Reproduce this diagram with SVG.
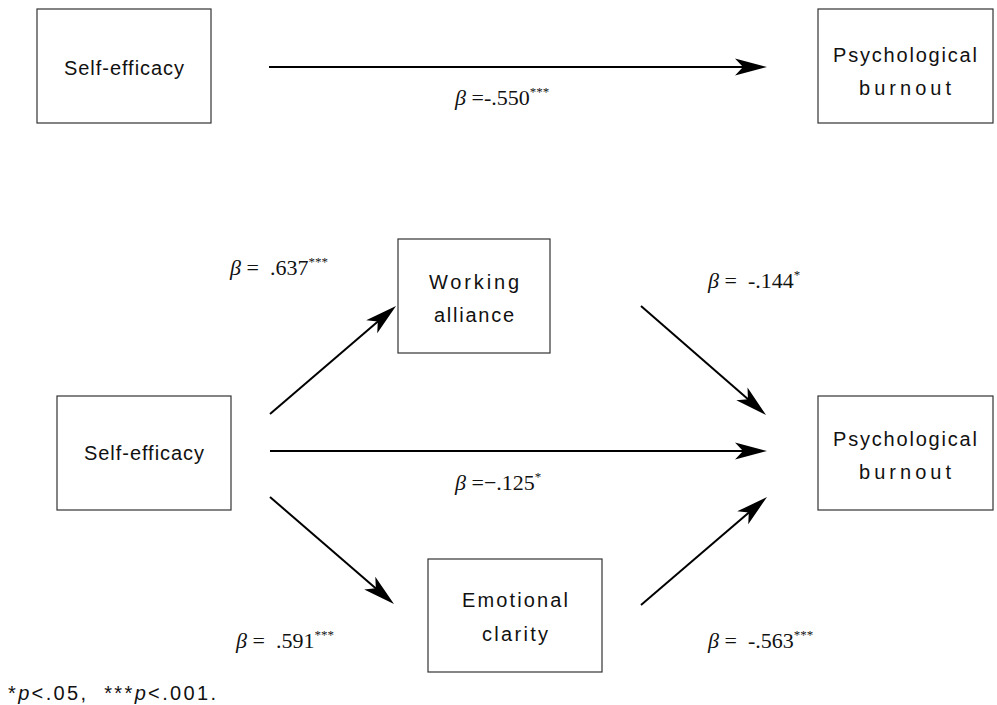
<svg xmlns="http://www.w3.org/2000/svg" width="997" height="705" viewBox="0 0 997 705">
<style>
.box{fill:#fff;stroke:#333;stroke-width:1.2}
.lbl{font-family:"Liberation Sans","DejaVu Sans",sans-serif;font-size:20px;fill:#111;text-anchor:middle}
.beta{font-family:"Liberation Serif","Times New Roman",serif;font-size:22px;fill:#111}
.it{font-style:italic}
.sup{font-size:13px}
.conn{stroke:#000;stroke-width:2;fill:none;marker-end:url(#ah)}
.note{font-family:"Liberation Sans","DejaVu Sans",sans-serif;font-size:20px;fill:#111}
</style>
<defs>
<marker id="ah" markerUnits="userSpaceOnUse" markerWidth="40" markerHeight="20" viewBox="-33 -10 35 20" refX="-12" refY="0" orient="auto">
<path d="M0,0 L-32,-8.5 L-24,0 L-32,8.5 Z" fill="#000"/>
</marker>
</defs>

<g id="se-top"><rect class="box" x="37" y="9" width="174" height="114"/><text class="lbl" x="124" y="75" textLength="120">Self-efficacy</text></g>
<g id="pb-top"><rect class="box" x="818" y="9" width="175" height="114"/><text class="lbl" x="905" y="62" textLength="144">Psychological</text><text class="lbl" x="905" y="95" textLength="92">burnout</text></g>

<g id="se"><rect class="box" x="57" y="396" width="174" height="114"/><text class="lbl" x="144" y="460" textLength="120">Self-efficacy</text></g>
<g id="wa"><rect class="box" x="398" y="239" width="152" height="114"/><text class="lbl" x="474" y="289" textLength="90">Working</text><text class="lbl" x="474" y="322" textLength="80">alliance</text></g>
<g id="ec"><rect class="box" x="428" y="559" width="174" height="113"/><text class="lbl" x="515" y="607" textLength="106">Emotional</text><text class="lbl" x="515" y="641" textLength="66">clarity</text></g>
<g id="pb"><rect class="box" x="818" y="396" width="175" height="114"/><text class="lbl" x="905" y="446" textLength="144">Psychological</text><text class="lbl" x="905" y="479" textLength="92">burnout</text></g>

<g id="connectors">
<line class="conn" x1="269" y1="67" x2="755" y2="67"/>
<line class="conn" x1="270" y1="414" x2="386.9" y2="313.8"/>
<line class="conn" x1="641" y1="306" x2="757" y2="407.1"/>
<line class="conn" x1="270" y1="451" x2="755" y2="451"/>
<line class="conn" x1="270" y1="497" x2="384.9" y2="596.2"/>
<line class="conn" x1="641" y1="605" x2="757.9" y2="504.8"/>
</g>

<g id="labels">
<text class="beta" x="455" y="105"><tspan class="it">β</tspan>&#160;=-.550<tspan class="sup" dy="-9">***</tspan></text>
<text class="beta" x="230" y="275"><tspan class="it">β</tspan>&#160;=&#160;&#160;.637<tspan class="sup" dy="-9">***</tspan></text>
<text class="beta" x="708" y="288"><tspan class="it">β</tspan>&#160;=&#160;&#160;-.144<tspan class="sup" dy="-9">*</tspan></text>
<text class="beta" x="455" y="490"><tspan class="it">β</tspan>&#160;=−.125<tspan class="sup" dy="-9">*</tspan></text>
<text class="beta" x="236" y="648"><tspan class="it">β</tspan>&#160;=&#160;&#160;.591<tspan class="sup" dy="-9">***</tspan></text>
<text class="beta" x="708" y="648"><tspan class="it">β</tspan>&#160;=&#160;&#160;-.563<tspan class="sup" dy="-9">***</tspan></text>
</g>

<text class="note" x="8" y="700" textLength="208">*<tspan class="it">p</tspan>&lt;.05,&#160;&#160;***<tspan class="it">p</tspan>&lt;.001.</text>
</svg>
